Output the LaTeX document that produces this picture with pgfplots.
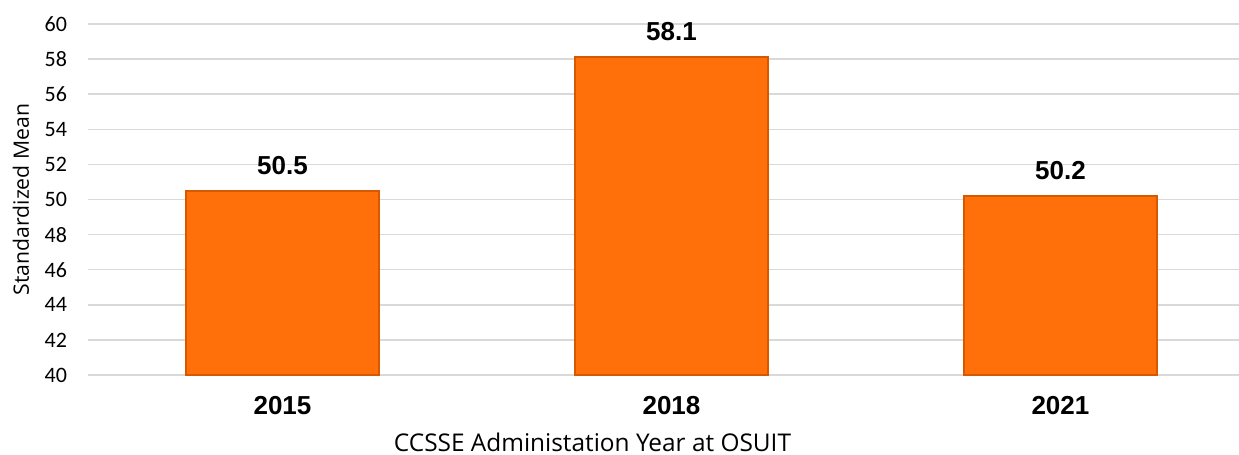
\documentclass[border=0pt]{standalone}
\usepackage{fontspec}
\setmainfont{Liberation Sans}
\newfontfamily\labelfont{Open Sans}
\newfontfamily\tickfont{Carlito}
\usepackage{pgfplots}
\pgfplotsset{compat=1.18}
\definecolor{barorange}{RGB}{255,112,10}
\definecolor{baredge}{RGB}{214,88,0}
\definecolor{gridgray}{RGB}{217,217,217}

\begin{document}
\begin{tikzpicture}
\begin{axis}[
    at={(0,0)}, anchor=south west,
    scale only axis,
    width=575.5pt, height=175.5pt,
    xmin=-0.5, xmax=2.459,
    ymin=40, ymax=60,
    ytick={40,42,...,60},
    xtick=data,
    xticklabels={2015,2018,2021},
    axis line style={draw=none},
    major tick length=0pt,
    ymajorgrids=true,
    grid style={gridgray, line width=0.8pt},
    /pgf/number format/assume math mode=true,
    yticklabel style={font=\tickfont\fontsize{11}{13}\selectfont, xshift=-7pt},
    xticklabel style={font=\bfseries\fontsize{13}{15}\selectfont, anchor=center, yshift=-15.5pt},
    ylabel={Standardized Mean},
    ylabel style={font=\labelfont\fontsize{10.6}{12}\selectfont,
        at={(axis description cs:-0.0582,0.5)}, anchor=center},
    xlabel={CCSSE Administation Year at OSUIT},
    xlabel style={font=\labelfont\fontsize{12.2}{14}\selectfont,
        at={(axis description cs:0.4383,0)}, anchor=base, yshift=-38.5pt},
    ybar, bar width=96.5pt,
    nodes near coords,
    every node near coord/.append style={font=\bfseries\fontsize{13}{15}\selectfont,
        anchor=base, yshift=8.3pt},
    clip=false,
]
\addplot[fill=barorange, draw=baredge, line width=1pt] coordinates {
    (0,50.5) (1,58.1) (2,50.2)
};
\end{axis}
\pgfresetboundingbox
\path[use as bounding box] (-44pt,-40pt) rectangle (575.5pt,187.5pt);
\end{tikzpicture}
\end{document}
